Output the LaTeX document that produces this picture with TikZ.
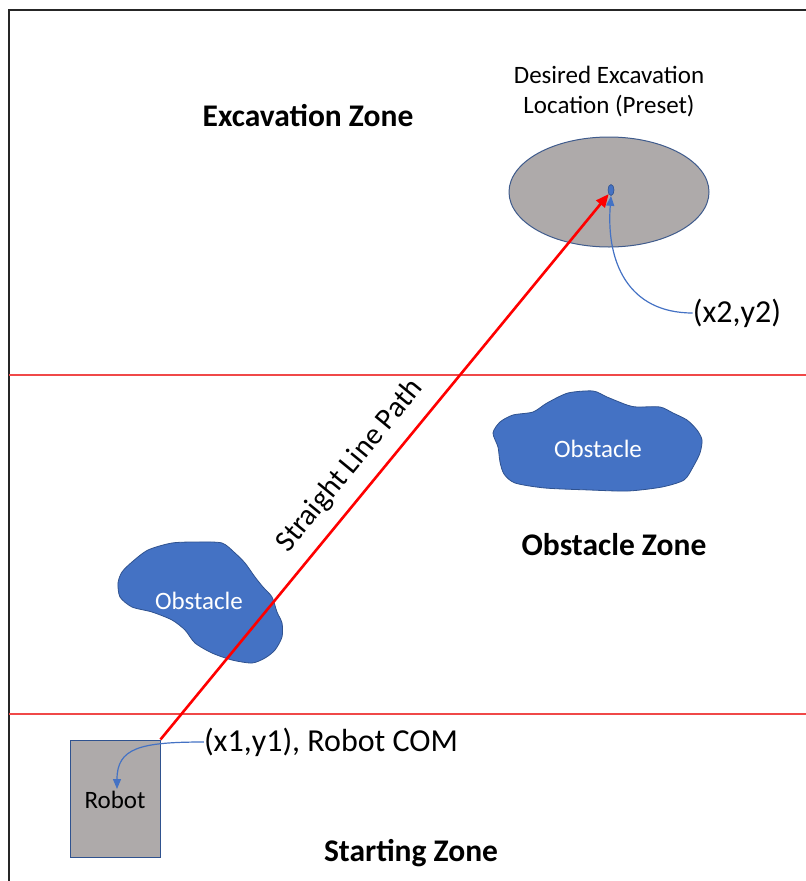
\documentclass[tikz,border=0pt]{standalone}
\usepackage{fontspec}
\setmainfont{Carlito}
\usetikzlibrary{arrows.meta,shapes.geometric}

\definecolor{shapegray}{HTML}{AEAAAA}
\definecolor{obstblue}{HTML}{4472C4}
\definecolor{obstedge}{HTML}{2F528F}
\definecolor{pinblue}{HTML}{4472C4}
\definecolor{zoneline}{HTML}{F04848}

\tikzset{
  zonelabel/.style={font=\fontsize{31.5}{37}\selectfont\bfseries, inner sep=0pt},
  biglabel/.style={font=\fontsize{32}{38}\selectfont, inner sep=0pt},
  smalllabel/.style={font=\fontsize{25}{30}\selectfont, inner sep=0pt},
  obstlabel/.style={font=\fontsize{25}{30}\selectfont, text=white, inner sep=0pt},
  obstshape/.style={fill=obstblue, draw=obstedge, line width=0.8pt},
  pointer/.style={draw=pinblue, line width=1.2pt, -{Triangle[length=10pt,width=8pt]}},
  pathline/.style={draw=red, line width=2.6pt, -{Triangle[length=13pt,width=11pt]}},
  zoneborder/.style={draw=zoneline, line width=1.2pt}
}

\begin{document}
\begin{tikzpicture}[x=1pt,y=-1pt]
\useasboundingbox (0,0) rectangle (806,881);

% outer frame (left and top edges)
\draw[line width=2.2pt, black!85] (9,881) -- (9,10) -- (806,10);

% zone boundaries
\draw[zoneborder] (9,375) -- (806,375);
\draw[zoneborder] (9,714) -- (806,714);

% excavation target
\node[ellipse, draw=obstedge!80!gray, fill=shapegray, line width=1pt,
      minimum width=200, minimum height=110, inner sep=0pt] (site) at (609,192) {};
\node[ellipse, fill=obstblue, draw=obstedge, line width=0.6pt,
      minimum width=6, minimum height=11, inner sep=0pt] (goal) at (611,190) {};

% robot
\node[draw=obstedge, fill=shapegray, line width=1pt,
      minimum width=90, minimum height=117, inner sep=0pt] (robot) at (115,798.5) {};
\node[smalllabel] (robottxt) at (115,800) {Robot};
\coordinate (com) at (117,789);

% obstacles
\path[obstshape] plot[smooth cycle, tension=0.45] coordinates {
  (568,393) (593,391) (607,397) (627,405) (637,407) (660,407) (673,413)
  (687,420) (697,430) (702,440) (700,453) (693,467) (684,480) (662,487)
  (628,491) (590,490) (545,488) (515,483) (504,474) (500,462) (498,447)
  (493,433) (500,422) (513,415) (533,412) (547,403)};
\node[obstlabel] (obstB) at (598,449) {Obstacle};

\path[obstshape] plot[smooth cycle, tension=0.45] coordinates {
  (118,583) (122,572) (132,562) (148,550) (172,543) (198,542) (222,543)
  (235,553) (245,563) (255,577) (263,587) (272,597) (277,612) (282,623)
  (282,637) (275,650) (265,658) (252,663) (232,660) (212,653) (195,643)
  (185,630) (172,620) (152,612) (132,607) (120,597)};
\node[obstlabel] (obstA) at (199,601) {Obstacle};

% texts
\node[zonelabel] (excz) at (308,116) {Excavation Zone};
\node[zonelabel] (obsz) at (614,545) {Obstacle Zone};
\node[zonelabel] (startz) at (411,853) {Starting Zone};
\node[smalllabel, align=center] (desired) at (609,92)
  {Desired Excavation\\Location (Preset)};
\node[biglabel] (goallbl) at (737,313) {(x2,y2)};
\node[biglabel] (comlbl) at (331,742) {(x1,y1), Robot COM};

% straight path
\draw[pathline] (robot.north east) -- (goal.south west);
\node[font=\fontsize{30}{36}\selectfont, inner sep=0pt, rotate=50.6] (pathlbl) at (350,466) {Straight Line Path};

% pointers
\draw[pointer] (goallbl.west) .. controls (628,313) and (606,262) .. (goal.south);
\draw[pointer] (comlbl.west) .. controls (140,742) and (117,748) .. (com);
\end{tikzpicture}
\end{document}
